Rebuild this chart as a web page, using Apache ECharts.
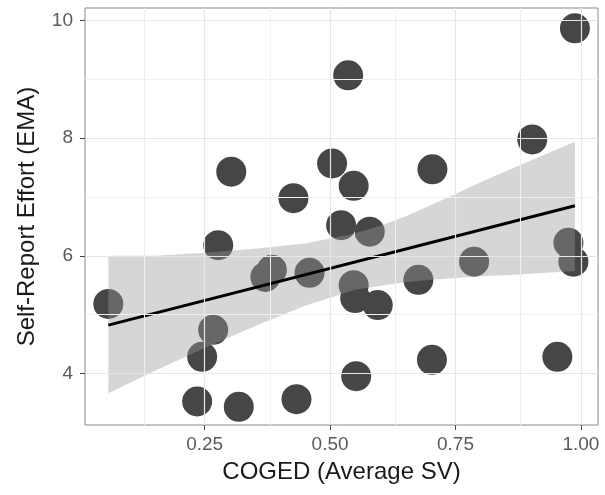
<!DOCTYPE html>
<html>
<head>
<meta charset="utf-8">
<script src="https://cdn.jsdelivr.net/npm/echarts@6/dist/echarts.min.js"></script>
<style>
  html, body { margin: 0; padding: 0; background: #fff; }
  #chart { width: 605px; height: 495px; }
</style>
</head>
<body>
<div id="chart"></div>
<script>
// scatter points (COGED average SV, self-report effort)
var pointX = [0.988, 0.536, 0.903, 0.504, 0.303, 0.704, 0.547, 0.427, 0.522, 0.579,
              0.277, 0.975, 0.985, 0.787, 0.371, 0.384, 0.459, 0.676, 0.547, 0.550,
              0.595, 0.058, 0.267, 0.245, 0.703, 0.953, 0.552, 0.235, 0.318, 0.433];
var pointY = [9.87, 9.07, 7.98, 7.57, 7.43, 7.47, 7.19, 6.98, 6.52, 6.41,
              6.18, 6.22, 5.90, 5.90, 5.64, 5.76, 5.71, 5.59, 5.50, 5.28,
              5.16, 5.18, 4.74, 4.28, 4.23, 4.28, 3.95, 3.52, 3.43, 3.56];

// fitted line ends
var fitX = [0.058, 0.988];
var fitY = [4.82, 6.85];

// confidence band
var bandX = [0.058, 0.15, 0.25, 0.35, 0.45, 0.55, 0.6, 0.65, 0.7, 0.75, 0.8, 0.85, 0.988];
var bandUpper = [6.00, 6.00, 6.05, 6.12, 6.21, 6.38, 6.51, 6.67, 6.86, 7.05, 7.25, 7.44, 7.94];
var bandLower = [3.66, 4.04, 4.43, 4.80, 5.15, 5.42, 5.49, 5.55, 5.59, 5.62, 5.65, 5.67, 5.74];

// ticks and grid lines
var xTicks = [0.25, 0.5, 0.75, 1.0];
var yTicks = [4, 6, 8, 10];
var xMajor = [0.25, 0.5, 0.75, 1.0];
var xMinor = [0.125, 0.375, 0.625, 0.875];
var yMajor = [4, 6, 8, 10];
var yMinor = [5, 7, 9];

var myChart = echarts.init(document.getElementById('chart'));

var scatterData = [];
for (var i = 0; i < pointX.length; i++) {
    scatterData.push([pointX[i], pointY[i]]);
}
var fitData = [];
for (var j = 0; j < fitX.length; j++) {
    fitData.push([fitX[j], fitY[j]]);
}
var majorLines = [], minorLines = [];
xMajor.forEach(function (v) { majorLines.push({ xAxis: v }); });
yMajor.forEach(function (v) { majorLines.push({ yAxis: v }); });
xMinor.forEach(function (v) { minorLines.push({ xAxis: v }); });
yMinor.forEach(function (v) { minorLines.push({ yAxis: v }); });

var font = 'Liberation Sans, Arial, sans-serif';

var option = {
    animation: false,
    grid: {
        left: 85,
        right: 7,
        top: 8,
        height: 417,
        show: true,
        borderColor: '#8a8a8a',
        borderWidth: 1,
        backgroundColor: '#fff'
    },
    xAxis: {
        type: 'value',
        min: 0.0115,
        max: 1.034,
        name: 'COGED (Average SV)',
        nameLocation: 'middle',
        nameGap: 35,
        nameTextStyle: { fontFamily: font, fontSize: 24, color: '#1a1a1a' },
        axisLine: { show: false },
        splitLine: { show: false },
        axisTick: {
            show: true,
            customValues: xTicks,
            length: 5,
            lineStyle: { color: '#444', width: 1 }
        },
        axisLabel: {
            customValues: xTicks,
            margin: 10,
            fontFamily: font,
            fontSize: 19,
            color: '#5a5a5a',
            formatter: function (v) { return v.toFixed(2); }
        }
    },
    yAxis: {
        type: 'value',
        min: 3.12,
        max: 10.216,
        name: 'Self-Report Effort (EMA)',
        nameLocation: 'middle',
        nameGap: 46,
        nameTextStyle: { fontFamily: font, fontSize: 24, color: '#1a1a1a' },
        axisLine: { show: false },
        splitLine: { show: false },
        axisTick: {
            show: true,
            customValues: yTicks,
            length: 5,
            lineStyle: { color: '#444', width: 1 }
        },
        axisLabel: {
            customValues: yTicks,
            margin: 12,
            fontFamily: font,
            fontSize: 19,
            color: '#5a5a5a'
        }
    },
    series: [
        {
            // minor grid lines
            type: 'line',
            data: [],
            z: 1,
            silent: true,
            markLine: {
                silent: true,
                symbol: ['none', 'none'],
                label: { show: false },
                lineStyle: { color: '#f0f0f0', width: 1, type: 'solid' },
                data: minorLines
            }
        },
        {
            // major grid lines
            type: 'line',
            data: [],
            z: 1,
            silent: true,
            markLine: {
                silent: true,
                symbol: ['none', 'none'],
                label: { show: false },
                lineStyle: { color: '#e6e6e6', width: 1.2, type: 'solid' },
                data: majorLines
            }
        },
        {
            type: 'scatter',
            data: scatterData,
            symbolSize: 30,
            z: 2,
            itemStyle: { color: '#464646', opacity: 1 }
        },
        {
            type: 'custom',
            z: 3,
            silent: true,
            data: [[0.5, 6]],
            renderItem: function (params, api) {
                var pts = [];
                for (var k = 0; k < bandX.length; k++) {
                    pts.push(api.coord([bandX[k], bandUpper[k]]));
                }
                for (var m = bandX.length - 1; m >= 0; m--) {
                    pts.push(api.coord([bandX[m], bandLower[m]]));
                }
                return {
                    type: 'polygon',
                    shape: { points: pts },
                    style: { fill: 'rgba(153,153,153,0.4)' }
                };
            }
        },
        {
            type: 'line',
            data: fitData,
            z: 4,
            symbol: 'none',
            lineStyle: { color: '#000', width: 3 }
        }
    ]
};
myChart.setOption(option);
</script>
</body>
</html>
